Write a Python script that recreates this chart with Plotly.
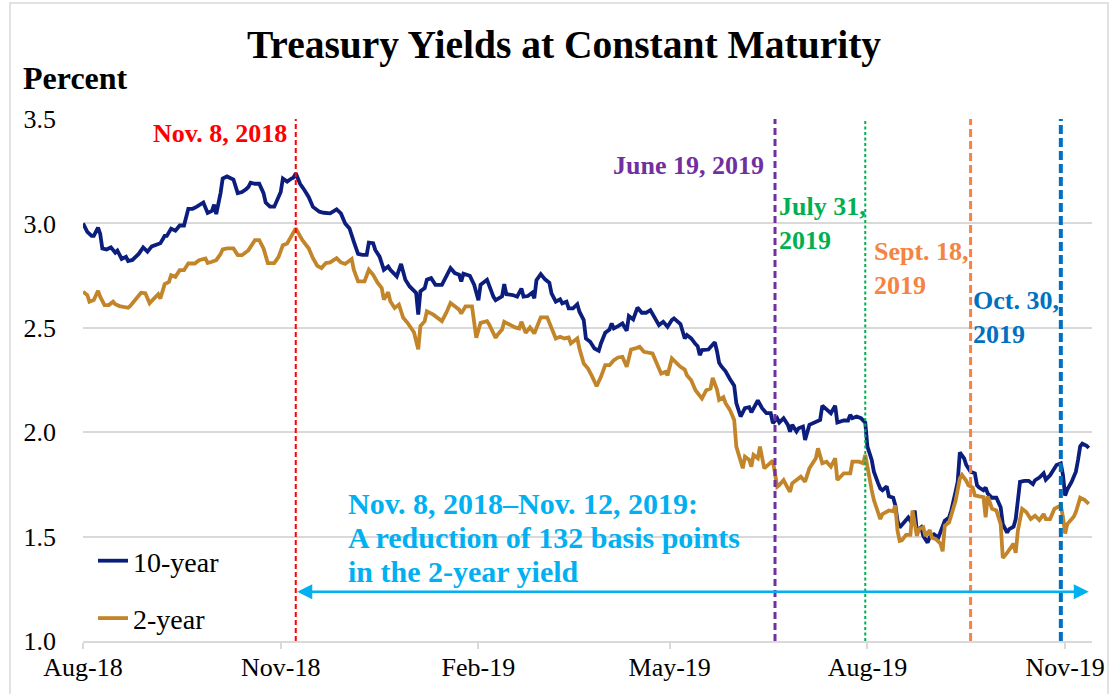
import plotly.graph_objects as go

# ---------------- data ----------------
dates_10y = [
    "2018-08-01", "2018-08-03", "2018-08-05", "2018-08-06", "2018-08-08", "2018-08-09", "2018-08-10",
    "2018-08-12", "2018-08-14", "2018-08-16", "2018-08-17", "2018-08-19", "2018-08-21", "2018-08-22",
    "2018-08-24", "2018-08-27", "2018-08-29", "2018-08-31", "2018-09-02", "2018-09-06", "2018-09-08",
    "2018-09-09", "2018-09-11", "2018-09-13", "2018-09-15", "2018-09-17", "2018-09-19", "2018-09-21",
    "2018-09-23", "2018-09-25", "2018-09-26", "2018-09-28", "2018-09-30", "2018-10-01", "2018-10-02",
    "2018-10-04", "2018-10-05", "2018-10-07", "2018-10-10", "2018-10-12", "2018-10-14", "2018-10-16",
    "2018-10-17", "2018-10-18", "2018-10-20", "2018-10-22", "2018-10-24", "2018-10-25", "2018-10-27",
    "2018-10-29", "2018-10-31", "2018-11-01", "2018-11-02", "2018-11-04", "2018-11-06", "2018-11-07",
    "2018-11-08", "2018-11-10", "2018-11-12", "2018-11-14", "2018-11-16", "2018-11-19", "2018-11-21",
    "2018-11-24", "2018-11-27", "2018-11-29", "2018-12-01", "2018-12-03", "2018-12-05", "2018-12-07",
    "2018-12-09", "2018-12-11", "2018-12-12", "2018-12-14", "2018-12-15", "2018-12-17", "2018-12-19",
    "2018-12-21", "2018-12-22", "2018-12-25", "2018-12-27", "2018-12-29", "2018-12-31", "2019-01-02",
    "2019-01-03", "2019-01-04", "2019-01-05", "2019-01-07", "2019-01-08", "2019-01-10", "2019-01-12",
    "2019-01-15", "2019-01-17", "2019-01-19", "2019-01-21", "2019-01-23", "2019-01-24", "2019-01-25",
    "2019-01-28", "2019-01-30", "2019-02-01", "2019-02-02", "2019-02-05", "2019-02-06", "2019-02-08",
    "2019-02-09", "2019-02-12", "2019-02-13", "2019-02-14", "2019-02-17", "2019-02-19", "2019-02-21",
    "2019-02-22", "2019-02-24", "2019-02-26", "2019-02-27", "2019-02-28", "2019-03-02", "2019-03-04",
    "2019-03-06", "2019-03-07", "2019-03-09", "2019-03-11", "2019-03-12", "2019-03-14", "2019-03-15",
    "2019-03-17", "2019-03-19", "2019-03-20", "2019-03-22", "2019-03-23", "2019-03-25", "2019-03-27",
    "2019-03-29", "2019-03-30", "2019-04-01", "2019-04-03", "2019-04-04", "2019-04-05", "2019-04-07",
    "2019-04-09", "2019-04-11", "2019-04-12", "2019-04-14", "2019-04-16", "2019-04-18", "2019-04-20",
    "2019-04-22", "2019-04-24", "2019-04-26", "2019-04-28", "2019-04-30", "2019-05-02", "2019-05-03",
    "2019-05-06", "2019-05-07", "2019-05-08", "2019-05-09", "2019-05-11", "2019-05-13", "2019-05-14",
    "2019-05-15", "2019-05-16", "2019-05-19", "2019-05-21", "2019-05-22", "2019-05-23", "2019-05-24",
    "2019-05-25", "2019-05-27", "2019-05-29", "2019-05-31", "2019-06-01", "2019-06-03", "2019-06-05",
    "2019-06-07", "2019-06-08", "2019-06-10", "2019-06-11", "2019-06-13", "2019-06-15", "2019-06-17",
    "2019-06-18", "2019-06-20", "2019-06-21", "2019-06-23", "2019-06-25", "2019-06-26", "2019-06-27",
    "2019-06-29", "2019-06-30", "2019-07-02", "2019-07-03", "2019-07-05", "2019-07-08", "2019-07-10",
    "2019-07-11", "2019-07-13", "2019-07-15", "2019-07-17", "2019-07-18", "2019-07-21", "2019-07-23",
    "2019-07-24", "2019-07-25", "2019-07-27", "2019-07-29", "2019-07-31", "2019-08-01", "2019-08-03",
    "2019-08-04", "2019-08-06", "2019-08-07", "2019-08-08", "2019-08-10", "2019-08-11", "2019-08-13",
    "2019-08-14", "2019-08-15", "2019-08-16", "2019-08-18", "2019-08-20", "2019-08-22", "2019-08-23",
    "2019-08-24", "2019-08-26", "2019-08-27", "2019-08-29", "2019-08-30", "2019-09-01", "2019-09-03",
    "2019-09-05", "2019-09-06", "2019-09-08", "2019-09-09", "2019-09-11", "2019-09-12", "2019-09-13",
    "2019-09-15", "2019-09-16", "2019-09-18", "2019-09-20", "2019-09-21", "2019-09-22", "2019-09-24",
    "2019-09-25", "2019-09-26", "2019-09-28", "2019-09-30", "2019-10-02", "2019-10-03", "2019-10-05",
    "2019-10-06", "2019-10-08", "2019-10-09", "2019-10-11", "2019-10-13", "2019-10-15", "2019-10-17",
    "2019-10-18", "2019-10-20", "2019-10-22", "2019-10-23", "2019-10-25", "2019-10-27", "2019-10-28",
    "2019-10-30", "2019-10-31", "2019-11-01", "2019-11-02", "2019-11-04", "2019-11-06", "2019-11-07",
    "2019-11-08", "2019-11-09", "2019-11-11", "2019-11-12",
]
yield_10y = [
    3.00, 2.96, 2.94, 2.94, 2.98, 2.95, 2.88,
    2.875, 2.885, 2.86, 2.87, 2.83, 2.84, 2.82,
    2.825, 2.855, 2.885, 2.865, 2.89, 2.905, 2.94,
    2.94, 2.975, 2.965, 2.99, 2.99, 3.07, 3.07,
    3.08, 3.09, 3.10, 3.05, 3.06, 3.09, 3.045,
    3.145, 3.215, 3.225, 3.21, 3.145, 3.15, 3.165,
    3.175, 3.195, 3.19, 3.19, 3.145, 3.10, 3.08,
    3.08, 3.13, 3.15, 3.215, 3.20, 3.215, 3.22,
    3.24, 3.19, 3.16, 3.127, 3.079, 3.056, 3.051,
    3.048, 3.067, 3.048, 3.00, 2.976, 2.913, 2.854,
    2.849, 2.849, 2.908, 2.905, 2.873, 2.841, 2.778,
    2.794, 2.778, 2.746, 2.806, 2.73, 2.698, 2.679,
    2.667, 2.563, 2.675, 2.69, 2.73, 2.738, 2.706,
    2.706, 2.746, 2.786, 2.762, 2.754, 2.722, 2.759,
    2.749, 2.706, 2.632, 2.706, 2.73, 2.702, 2.648,
    2.632, 2.651, 2.709, 2.661, 2.657, 2.649, 2.688,
    2.649, 2.652, 2.668, 2.641, 2.728, 2.757, 2.732,
    2.716, 2.665, 2.625, 2.636, 2.617, 2.625, 2.593,
    2.593, 2.613, 2.577, 2.537, 2.449, 2.433, 2.401,
    2.39, 2.425, 2.476, 2.492, 2.521, 2.497, 2.508,
    2.521, 2.486, 2.556, 2.54, 2.597, 2.572, 2.572,
    2.585, 2.545, 2.513, 2.529, 2.505, 2.537, 2.545,
    2.518, 2.489, 2.449, 2.465, 2.449, 2.422, 2.412,
    2.369, 2.393, 2.396, 2.422, 2.431, 2.388, 2.332,
    2.316, 2.292, 2.255, 2.223, 2.139, 2.075, 2.115,
    2.12, 2.095, 2.131, 2.152, 2.115, 2.091, 2.091,
    2.043, 2.067, 2.046, 2.067, 2.035, 2.003, 2.035,
    2.003, 2.019, 2.027, 1.963, 2.035, 2.051, 2.059,
    2.127, 2.107, 2.091, 2.127, 2.046, 2.056, 2.056,
    2.083, 2.067, 2.075, 2.067, 2.046, 1.931, 1.867,
    1.811, 1.755, 1.73, 1.722, 1.741, 1.693, 1.686,
    1.649, 1.576, 1.544, 1.568, 1.592, 1.56, 1.625,
    1.528, 1.544, 1.503, 1.471, 1.498, 1.511, 1.495,
    1.552, 1.576, 1.592, 1.625, 1.714, 1.762, 1.903,
    1.875, 1.843, 1.811, 1.803, 1.746, 1.735, 1.722,
    1.735, 1.706, 1.686, 1.686, 1.641, 1.56, 1.519,
    1.536, 1.547, 1.584, 1.762, 1.767, 1.767, 1.751,
    1.77, 1.783, 1.803, 1.773, 1.794, 1.822, 1.843,
    1.851, 1.794, 1.697, 1.725, 1.762, 1.811, 1.867,
    1.932, 1.945, 1.935, 1.924,
]

dates_2y = [
    "2018-08-01", "2018-08-03", "2018-08-04", "2018-08-06", "2018-08-08", "2018-08-09", "2018-08-11",
    "2018-08-13", "2018-08-15", "2018-08-16", "2018-08-18", "2018-08-20", "2018-08-22", "2018-08-23",
    "2018-08-26", "2018-08-28", "2018-08-30", "2018-09-01", "2018-09-03", "2018-09-05", "2018-09-06",
    "2018-09-08", "2018-09-10", "2018-09-11", "2018-09-13", "2018-09-15", "2018-09-17", "2018-09-19",
    "2018-09-22", "2018-09-24", "2018-09-27", "2018-09-28", "2018-09-30", "2018-10-02", "2018-10-04",
    "2018-10-05", "2018-10-07", "2018-10-10", "2018-10-12", "2018-10-14", "2018-10-17", "2018-10-18",
    "2018-10-20", "2018-10-22", "2018-10-24", "2018-10-26", "2018-10-29", "2018-10-31", "2018-11-01",
    "2018-11-02", "2018-11-04", "2018-11-06", "2018-11-08", "2018-11-11", "2018-11-14", "2018-11-16",
    "2018-11-18", "2018-11-20", "2018-11-22", "2018-11-24", "2018-11-27", "2018-11-29", "2018-12-01",
    "2018-12-04", "2018-12-05", "2018-12-07", "2018-12-10", "2018-12-12", "2018-12-14", "2018-12-16",
    "2018-12-18", "2018-12-19", "2018-12-21", "2018-12-22", "2018-12-24", "2018-12-26", "2018-12-28",
    "2018-12-30", "2019-01-01", "2019-01-02", "2019-01-04", "2019-01-05", "2019-01-07", "2019-01-08",
    "2019-01-11", "2019-01-13", "2019-01-15", "2019-01-17", "2019-01-19", "2019-01-21", "2019-01-23",
    "2019-01-24", "2019-01-26", "2019-01-29", "2019-01-30", "2019-01-31", "2019-02-02", "2019-02-05",
    "2019-02-06", "2019-02-09", "2019-02-10", "2019-02-12", "2019-02-13", "2019-02-16", "2019-02-18",
    "2019-02-20", "2019-02-21", "2019-02-23", "2019-02-25", "2019-02-27", "2019-03-01", "2019-03-02",
    "2019-03-05", "2019-03-07", "2019-03-09", "2019-03-11", "2019-03-13", "2019-03-15", "2019-03-16",
    "2019-03-19", "2019-03-20", "2019-03-22", "2019-03-24", "2019-03-26", "2019-03-28", "2019-03-30",
    "2019-04-01", "2019-04-03", "2019-04-05", "2019-04-07", "2019-04-09", "2019-04-11", "2019-04-13",
    "2019-04-15", "2019-04-17", "2019-04-19", "2019-04-21", "2019-04-23", "2019-04-25", "2019-04-27",
    "2019-04-29", "2019-04-30", "2019-05-02", "2019-05-04", "2019-05-06", "2019-05-08", "2019-05-09",
    "2019-05-11", "2019-05-13", "2019-05-16", "2019-05-18", "2019-05-20", "2019-05-21", "2019-05-23",
    "2019-05-24", "2019-05-26", "2019-05-27", "2019-05-29", "2019-05-31", "2019-06-01", "2019-06-03",
    "2019-06-04", "2019-06-05", "2019-06-07", "2019-06-08", "2019-06-09", "2019-06-11", "2019-06-12",
    "2019-06-14", "2019-06-16", "2019-06-18", "2019-06-19", "2019-06-20", "2019-06-21", "2019-06-23",
    "2019-06-25", "2019-06-26", "2019-06-27", "2019-06-29", "2019-07-01", "2019-07-03", "2019-07-05",
    "2019-07-08", "2019-07-09", "2019-07-11", "2019-07-13", "2019-07-15", "2019-07-17", "2019-07-18",
    "2019-07-21", "2019-07-24", "2019-07-25", "2019-07-28", "2019-07-30", "2019-07-31", "2019-08-01",
    "2019-08-03", "2019-08-04", "2019-08-07", "2019-08-08", "2019-08-11", "2019-08-13", "2019-08-14",
    "2019-08-15", "2019-08-16", "2019-08-17", "2019-08-19", "2019-08-21", "2019-08-22", "2019-08-24",
    "2019-08-25", "2019-08-27", "2019-08-28", "2019-08-30", "2019-08-31", "2019-09-02", "2019-09-04",
    "2019-09-05", "2019-09-06", "2019-09-08", "2019-09-09", "2019-09-11", "2019-09-13", "2019-09-14",
    "2019-09-16", "2019-09-17", "2019-09-19", "2019-09-20", "2019-09-22", "2019-09-24", "2019-09-25",
    "2019-09-26", "2019-09-28", "2019-09-30", "2019-10-02", "2019-10-03", "2019-10-05", "2019-10-07",
    "2019-10-08", "2019-10-09", "2019-10-10", "2019-10-12", "2019-10-14", "2019-10-16", "2019-10-18",
    "2019-10-20", "2019-10-22", "2019-10-23", "2019-10-25", "2019-10-27", "2019-10-29", "2019-10-30",
    "2019-10-31", "2019-11-01", "2019-11-02", "2019-11-05", "2019-11-06", "2019-11-08", "2019-11-10",
    "2019-11-12",
]
yield_2y = [
    2.673, 2.657, 2.625, 2.633, 2.677, 2.649, 2.609,
    2.609, 2.625, 2.613, 2.604, 2.601, 2.596, 2.605,
    2.64, 2.668, 2.665, 2.617, 2.64, 2.661, 2.64,
    2.709, 2.72, 2.752, 2.744, 2.776, 2.776, 2.808,
    2.808, 2.824, 2.832, 2.81, 2.816, 2.824, 2.853,
    2.875, 2.88, 2.88, 2.848, 2.848, 2.872, 2.891,
    2.92, 2.92, 2.88, 2.81, 2.81, 2.84, 2.875,
    2.896, 2.904, 2.944, 2.976, 2.921, 2.881, 2.833,
    2.797, 2.786, 2.81, 2.813, 2.833, 2.813, 2.806,
    2.829, 2.778, 2.722, 2.722, 2.778, 2.754, 2.717,
    2.69, 2.635, 2.67, 2.627, 2.595, 2.611, 2.548,
    2.524, 2.492, 2.479, 2.397, 2.508, 2.532, 2.579,
    2.563, 2.548, 2.532, 2.571, 2.619, 2.603, 2.587,
    2.568, 2.603, 2.603, 2.54, 2.452, 2.524, 2.532,
    2.516, 2.452, 2.468, 2.492, 2.529, 2.513, 2.502,
    2.497, 2.529, 2.476, 2.502, 2.473, 2.521, 2.55,
    2.55, 2.502, 2.449, 2.457, 2.449, 2.454, 2.425,
    2.449, 2.401, 2.329, 2.305, 2.265, 2.22, 2.265,
    2.321, 2.321, 2.345, 2.358, 2.361, 2.313, 2.396,
    2.401, 2.409, 2.385, 2.38, 2.377, 2.329, 2.281,
    2.289, 2.273, 2.353, 2.332, 2.313, 2.30, 2.273,
    2.249, 2.201, 2.161, 2.201, 2.209, 2.26, 2.204,
    2.155, 2.168, 2.139, 2.107, 2.059, 1.931, 1.851,
    1.827, 1.883, 1.867, 1.835, 1.891, 1.875, 1.931,
    1.827, 1.843, 1.864, 1.803, 1.739, 1.747, 1.771,
    1.731, 1.715, 1.755, 1.771, 1.787, 1.763, 1.827,
    1.875, 1.923, 1.851, 1.859, 1.835, 1.875, 1.771,
    1.803, 1.803, 1.859, 1.859, 1.851, 1.891, 1.827,
    1.723, 1.675, 1.584, 1.608, 1.625, 1.621, 1.649,
    1.528, 1.479, 1.482, 1.508, 1.508, 1.625, 1.503,
    1.536, 1.544, 1.503, 1.531, 1.495, 1.487, 1.466,
    1.43, 1.552, 1.568, 1.60, 1.67, 1.778, 1.795,
    1.767, 1.746, 1.735, 1.697, 1.693, 1.689, 1.592,
    1.693, 1.633, 1.625, 1.56, 1.398, 1.422, 1.455,
    1.466, 1.422, 1.528, 1.633, 1.617, 1.584, 1.60,
    1.579, 1.608, 1.584, 1.584, 1.633, 1.641, 1.649,
    1.592, 1.515, 1.56, 1.595, 1.617, 1.686, 1.676,
    1.657,
]

series_names = ["10-year", "2-year"]

# axis ticks
x_tick_vals = ["2018-08-01", "2018-11-01", "2019-02-01", "2019-05-01", "2019-08-01", "2019-11-01"]
x_tick_text = ["Aug-18", "Nov-18", "Feb-19", "May-19", "Aug-19", "Nov-19"]
y_tick_vals = [1.0, 1.5, 2.0, 2.5, 3.0, 3.5]
y_tick_text = ["1.0", "1.5", "2.0", "2.5", "3.0", "3.5"]

# event markers (vertical lines)
event_dates = ["2018-11-08", "2019-06-19", "2019-07-31", "2019-09-18", "2019-10-30"]
event_labels = ["Nov. 8, 2018", "June 19, 2019", "July 31,<br>2019", "Sept. 18,<br>2019", "Oct. 30,<br>2019"]

# span of the highlighted reduction
span_start = "2018-11-08"
span_end = "2019-11-12"
span_text = ["Nov. 8, 2018\u2013Nov. 12, 2019:",
             "A reduction of 132 basis points",
             "in the 2-year yield"]

# ---------------- styles ----------------
FONT = "Liberation Serif, Times New Roman, serif"
C10 = "#0B1E7E"
C2 = "#C2852A"
GRID = "#D9D9D9"
CYAN = "#00B0F0"
event_colors = ["#FF0000", "#7030A0", "#00B050", "#F4843F", "#0070C0"]
event_dash = ["5px,3px", "7px,4px", "3px,2.5px", "8px,4px", "9px,4px"]
event_width = [2, 3, 2, 3, 4]

W, H = 1116, 694
L, R, T, B = 83, 24, 119, 53
PW, PH = W - L - R, H - T - B


def px(xp):
    return (xp - L) / PW


def py(yp):
    return (H - B - yp) / PH


fig = go.Figure()
fig.add_trace(go.Scatter(x=dates_10y, y=yield_10y, mode="lines", name=series_names[0],
                         legendgroup="g10", line=dict(color=C10, width=3.8)))
fig.add_trace(go.Scatter(x=dates_2y, y=yield_2y, mode="lines", name=series_names[1],
                         legendgroup="g2", line=dict(color=C2, width=3.8)))

shapes = []
for d, c, ds, w in zip(event_dates, event_colors, event_dash, event_width):
    shapes.append(dict(type="line", xref="x", yref="y", x0=d, x1=d, y0=1.0, y1=3.5,
                       line=dict(color=c, width=w, dash=ds), layer="above"))
# outer chart frame
shapes.append(dict(type="rect", xref="paper", yref="paper", x0=px(10), x1=px(1108),
                   y0=py(700), y1=py(3), line=dict(color=GRID, width=1.5), fillcolor="rgba(0,0,0,0)"))

annotations = []
# "Percent" axis caption
annotations.append(dict(xref="paper", yref="paper", x=px(21), y=py(78), xanchor="left", yanchor="middle",
                        text="<b>Percent</b>", showarrow=False,
                        font=dict(family=FONT, size=32, color="black")))

# event labels
lab_pos = [  # (x pixel, anchor, y pixel of label centre)
    (289, "right", 133),
    (766, "right", 165),
    (777, "left", 223),
    (872, "left", 268),
    (971, "left", 317),
]
for (xp, anc, yp), txt, c in zip(lab_pos, event_labels, event_colors):
    annotations.append(dict(xref="paper", yref="paper", x=px(xp), y=py(yp), xanchor=anc, yanchor="middle",
                            align="left", text="<b>" + txt + "</b>", showarrow=False,
                            font=dict(family=FONT, size=26, color=c)))

# span text
for i, t in enumerate(span_text):
    annotations.append(dict(xref="paper", yref="paper", x=px(346), y=py(503 + 34 * i), xanchor="left",
                            yanchor="middle", text="<b>" + t + "</b>", showarrow=False,
                            font=dict(family=FONT, size=30, color=CYAN)))

# double-headed arrow for the span
annotations.append(dict(xref="x", yref="y", axref="x", ayref="y", x=span_end, y=1.236, ax=span_start, ay=1.236,
                        text="", showarrow=True, arrowhead=2, startarrowhead=2, arrowside="end+start",
                        arrowsize=1.2, startarrowsize=1.2, arrowwidth=2.5, arrowcolor=CYAN))

fig.update_layout(
    width=W, height=H,
    margin=dict(l=L, r=R, t=T, b=B),
    paper_bgcolor="white", plot_bgcolor="white",
    title=dict(text="<b>Treasury Yields at Constant Maturity</b>", x=564 / W, xref="container",
               y=1 - 44 / H, yref="container", xanchor="center", yanchor="middle",
               font=dict(family=FONT, size=39.5, color="black")),
    font=dict(family=FONT, color="black"),
    showlegend=True,
    legend=dict(x=px(93), y=py(536), xanchor="left", yanchor="top", bgcolor="rgba(0,0,0,0)",
                font=dict(family=FONT, size=28, color="black"), tracegroupgap=18, traceorder="grouped"),
    shapes=shapes,
    annotations=annotations,
)
fig.update_xaxes(type="date", range=["2018-08-01", "2019-11-13 12:00"],
                 tickmode="array", tickvals=x_tick_vals, ticktext=x_tick_text,
                 ticks="outside", ticklen=6, tickwidth=1.5, tickcolor=GRID,
                 showline=True, linecolor=GRID, linewidth=1.5, showgrid=False, zeroline=False,
                 ticklabelstandoff=-4,
                 tickfont=dict(family=FONT, size=26, color="black"))
fig.update_yaxes(range=[1.0, 3.5], tickmode="array", tickvals=y_tick_vals, ticktext=y_tick_text,
                 showgrid=True, gridcolor=GRID, gridwidth=1.5, zeroline=False, showline=False,
                 ticks="", ticklabelstandoff=26,
                 tickfont=dict(family=FONT, size=26, color="black"))

fig.write_html("out.html", config={"displayModeBar": False},
               post_script="document.body.style.margin='0';document.body.style.overflow='hidden';")
